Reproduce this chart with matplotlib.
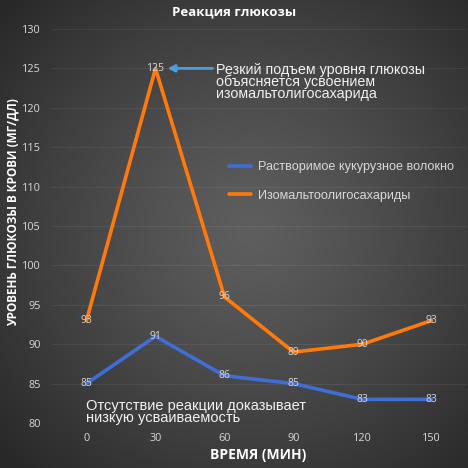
import numpy as np
import matplotlib
matplotlib.use("Agg")
import matplotlib.pyplot as plt

times = [0, 30, 60, 90, 120, 150]
fiber = [85, 91, 86, 85, 83, 83]
imo = [93, 125, 96, 89, 90, 93]
yticks = [80, 85, 90, 95, 100, 105, 110, 115, 120, 125, 130]
series_names = ["Растворимое кукурузное волокно", "Изомальтоолигосахариды"]
title = "Реакция глюкозы"
xlabel = "ВРЕМЯ (МИН)"
ylabel = "УРОВЕНЬ ГЛЮКОЗЫ В КРОВИ (МГ/ДЛ)"
note_top = "Резкий подъем уровня глюкозы\nобъясняется усвоением\nизомальтолигосахарида"
note_bottom = "Отсутствие реакции доказывает\nнизкую усваиваемость"

W = H = 468
fig = plt.figure(figsize=(4.68, 4.68), dpi=100)

# radial gradient background
bg = fig.add_axes([0, 0, 1, 1], zorder=-10)
yy, xx = np.mgrid[0:H, 0:W]
cx, cy = 250, 230
r = np.sqrt((xx - cx) ** 2 + (yy - cy) ** 2) / 330.0
r = np.clip(r, 0, 1)
c_in, c_out = 0.37, 0.16
val = c_in + (c_out - c_in) * r ** 1.2
img = np.dstack([val, val, val])
bg.imshow(img, extent=[0, 1, 0, 1], aspect="auto", origin="upper")
bg.axis("off")

ax = fig.add_axes([52 / W, 1 - 423 / H, (466 - 52) / W, (423 - 29) / H])
ax.patch.set_alpha(0)
blue = "#3f6fd6"
orange = "#ff7a0a"
ax.plot(times, fiber, color=blue, lw=2.6, solid_capstyle="round", label=series_names[0], zorder=3)
ax.plot(times, imo, color=orange, lw=2.6, solid_capstyle="round", label=series_names[1], zorder=3)

lab_col = "#d9d9d9"
for xs, ys in ((times, fiber), (times, imo)):
    for x, y in zip(xs, ys):
        ax.text(x, y, str(y), ha="center", va="center", color=lab_col, fontsize=7.5,
                family="Open Sans", zorder=5)

ax.set_xlim(-15, 165)
ax.set_ylim(80, 130)
ax.set_xticks(times)
ax.set_yticks(yticks)
ax.tick_params(colors=lab_col, labelsize=7.8, length=0)
ax.xaxis.set_tick_params(pad=7)
ax.yaxis.set_tick_params(pad=8)
for t in ax.get_xticklabels() + ax.get_yticklabels():
    t.set_family("Open Sans")
for s in ax.spines.values():
    s.set_visible(False)
ax.grid(axis="y", color="white", alpha=0.07, lw=0.8)
ax.set_axisbelow(True)

fig.text(234 / W, 1 - 12 / H, title, ha="center", va="center", color="white",
         fontsize=9.5, fontweight="bold", family="Open Sans")
fig.text(258 / W, 1 - 455 / H, xlabel, ha="center", va="center", color="white",
         fontsize=10, fontweight="bold", family="Open Sans")
fig.text(13 / W, 1 - 212 / H, ylabel, ha="center", va="center", color="white",
         fontsize=8.5, fontweight="bold", family="Open Sans", rotation=90)

leg = ax.legend(loc="upper left", bbox_to_anchor=((218 - 52) / 414, 1 - (150 - 29) / 394),
                frameon=False, handlelength=1.7, handletextpad=0.6,
                labelspacing=1.3, prop={"family": "Liberation Sans", "size": 9.1})
for t in leg.get_texts():
    t.set_color(lab_col)

ax.annotate("", xy=(34, 125), xytext=(56, 125),
            arrowprops=dict(arrowstyle="-|>", color="#4a9fe0", lw=2, mutation_scale=10))

def px2data(px, py):
    return ((px - 86) / 2.3, 130 - (py - 29) / 7.88)

x, y = px2data(215, 98)
ax.text(x, y, note_top, ha="left", va="baseline", color="#f2f2f2", fontsize=10.3,
        family="Liberation Sans", linespacing=0.78)
x, y = px2data(86, 422)
ax.text(x, y, note_bottom, ha="left", va="baseline", color="#f2f2f2", fontsize=10.5,
        family="Liberation Sans", linespacing=0.78)

fig.savefig("out.png", dpi=100)
